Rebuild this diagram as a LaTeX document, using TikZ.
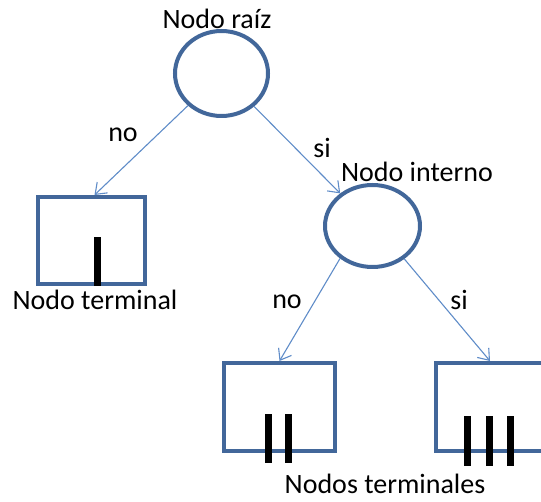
\documentclass[tikz,border=0pt]{standalone}
\usepackage{fontspec}
\setmainfont{Carlito}
\usetikzlibrary{shapes.geometric,arrows.meta}
\definecolor{borde}{RGB}{66,103,154}
\definecolor{flecha}{RGB}{95,140,200}
\tikzset{
  nodo/.style={draw=borde,line width=4,ellipse,inner sep=0},
  hoja/.style={draw=borde,line width=4,inner sep=0},
  barra/.style={fill=black,inner sep=0,minimum width=7},
  flecha/.style={draw=flecha,line width=1.1,-{Straight Barb[length=10,width=15]}}
}
\begin{document}
\begin{tikzpicture}[x=1pt,y=-1pt,node distance=45,font=\fontsize{28}{33}\selectfont]

\path[use as bounding box] (0,0) rectangle (541,502);
\clip (0,0) rectangle (541,502);

\node[nodo,minimum width=93,minimum height=85] (1) at (221.5,73.5) {};
\node[nodo,minimum width=95,minimum height=82] (2) at (372.5,226) {};

\node[hoja,minimum width=107,minimum height=87] (3) at (91.5,240.5) {};
\node[hoja,minimum width=111,minimum height=88] (4) at (279.5,407) {};
\node[hoja,minimum width=108,minimum height=88] (5) at (490,407) {};

\node[barra,minimum height=49] (b1) at (97.5,261.5) {};
\node[barra,minimum height=49] (b2) at (268.5,438.5) {};
\node[barra,minimum height=49] (b3) at (288.5,438.5) {};
\node[barra,minimum height=50] (b4) at (467,441) {};
\node[barra,minimum height=50] (b5) at (489,441) {};
\node[barra,minimum height=50] (b6) at (510.5,441) {};

\node (1a) at (217,19) {Nodo raíz};
\node (2a) at (417,172) {Nodo interno};
\node (3a) at (95,300) {Nodo terminal};
\node[inner sep=0] (4a) at (385,484) {Nodos terminales};

\path[flecha] (1) -- ([xshift=3]3.north);
\path[flecha] (1) -- (2);
\path[flecha] (2.225) -- (4.north);
\path[flecha] (2.-46) -- (5.north);

\node (c1) at (123,135) {no};
\node (c2) at (322,148) {si};
\node (c3) at (287,302) {no};
\node (c4) at (459,300) {si};

\end{tikzpicture}
\end{document}
